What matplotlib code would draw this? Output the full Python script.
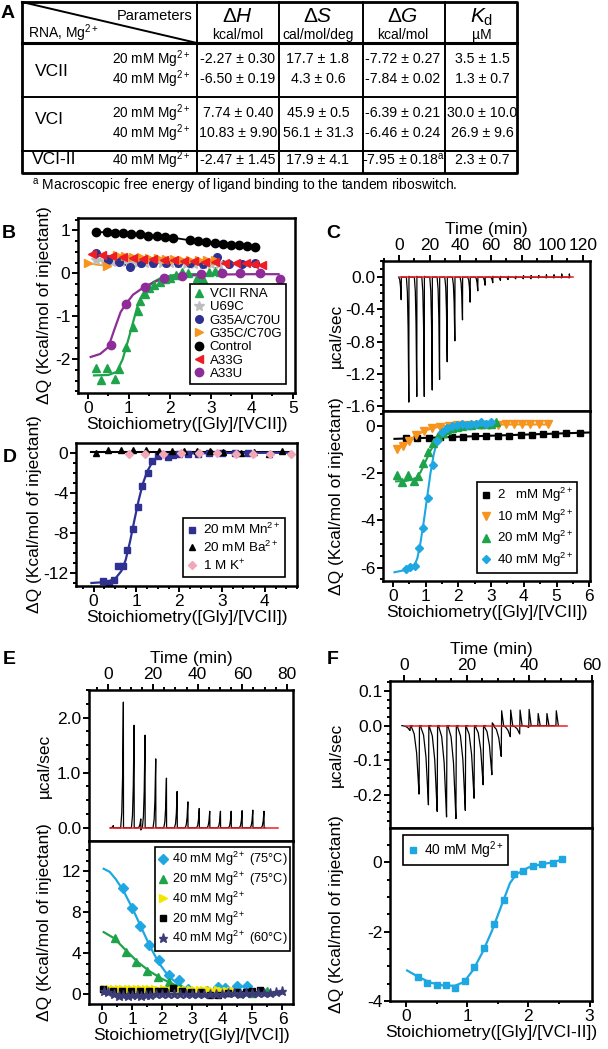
import matplotlib
matplotlib.use('Agg')
import matplotlib.pyplot as plt
from matplotlib.ticker import MultipleLocator, FormatStrFormatter

W, H = 608, 1049  # output size in pixels

# ---------------- data ----------------
# B: VCII riboswitch and mutants
vcii_x = [0.21, 0.33, 0.47, 0.66, 0.76, 0.93, 1.1, 1.23, 1.27, 1.39, 1.5, 1.62, 1.75, 1.88, 2.0, 2.15, 2.3, 2.45, 2.65, 2.81, 2.96, 3.1, 3.22]
vcii_y = [-2.2, -2.49, -2.2, -2.47, -2.22, -1.72, -1.25, -0.87, -0.65, -0.48, -0.35, -0.28, -0.2, -0.14, -0.1, -0.04, 0.02, 0.0, -0.1, -0.13, 0.04, 0.05, 0.04]
vcii_fit_x = [0.15, 0.5, 0.7, 0.85, 1.0, 1.1, 1.2, 1.3, 1.4, 1.6, 1.8, 2.1, 2.5, 3.3]
vcii_fit_y = [-2.38, -2.37, -2.3, -2.0, -1.5, -1.15, -0.8, -0.55, -0.38, -0.2, -0.1, -0.04, -0.02, -0.01]
a33u_x = [0.56, 0.94, 1.39, 1.86, 2.3, 2.76, 3.26, 3.72, 4.2, 4.68]
a33u_y = [-1.66, -0.71, -0.31, -0.11, -0.07, -0.02, 0.0, 0.0, 0.0, -0.13]
a33u_fit_x = [0.07, 0.3, 0.5, 0.65, 0.8, 0.94, 1.1, 1.4, 1.7, 2.0, 2.5, 3.0, 4.0, 4.65]
a33u_fit_y = [-1.95, -1.88, -1.72, -1.3, -0.9, -0.7, -0.5, -0.3, -0.17, -0.1, -0.05, -0.03, -0.02, -0.02]
ctrl_x = [0.21, 0.46, 0.66, 0.86, 1.06, 1.27, 1.47, 1.68, 1.88, 2.08, 2.49, 2.69, 2.89, 3.1, 3.3, 3.5, 3.68, 3.87, 4.07]
ctrl_y = [0.96, 0.96, 0.94, 0.94, 0.92, 0.91, 0.88, 0.87, 0.84, 0.83, 0.77, 0.75, 0.74, 0.71, 0.69, 0.67, 0.67, 0.64, 0.61]
u69c_x = [0.2, 0.4, 0.6, 0.8, 1.0, 1.2, 1.4, 1.6, 1.8, 2.0, 2.2, 2.4, 2.6, 2.8, 3.0, 3.2]
u69c_y = [0.3, 0.28, 0.27, 0.26, 0.25, 0.25, 0.24, 0.24, 0.23, 0.23, 0.23, 0.22, 0.22, 0.22, 0.22, 0.21]
g35a_x = [0.21, 0.5, 0.75, 1.02, 1.3, 1.6, 1.9, 2.2, 2.5, 2.8, 3.14, 3.45, 3.75, 4.07]
g35a_y = [0.48, 0.3, 0.27, 0.15, 0.25, 0.24, 0.24, 0.23, 0.23, 0.22, 0.37, 0.22, 0.22, 0.23]
g35c_x = [0.0, 0.46, 0.7, 0.9, 1.1, 1.3, 1.5, 1.7, 1.9, 2.1, 2.3, 2.5, 2.7, 2.9, 3.1]
g35c_y = [0.23, 0.17, 0.42, 0.4, 0.38, 0.37, 0.36, 0.35, 0.34, 0.33, 0.32, 0.31, 0.3, 0.3, 0.3]
a33g_x = [0.09, 0.35, 0.6, 0.85, 1.1, 1.35, 1.6, 1.85, 2.1, 2.35, 2.6, 2.85, 3.1, 3.35, 3.6, 3.85, 4.05, 4.24]
a33g_y = [0.45, 0.42, 0.4, 0.38, 0.36, 0.34, 0.33, 0.31, 0.3, 0.29, 0.28, 0.27, 0.26, 0.25, 0.24, 0.23, 0.22, 0.2]

# C: VCII thermogram (40 mM Mg) and binding isotherms at different Mg2+
c_inj_t = [1.3, 6.3, 11.5, 16.4, 21.6, 26.4, 31.4, 36.4, 41.4, 46.4, 51.4, 56.2, 61.2, 66.2, 71.2, 76.2, 81.2, 86.2, 91.2, 96.2, 101.2, 106.2, 111.2]
c_inj_peak = [-0.28, -1.55, -1.48, -1.48, -1.4, -1.27, -1.05, -0.79, -0.53, -0.31, -0.17, -0.1, -0.07, -0.04, -0.03, -0.02, -0.02, -0.02, -0.01, -0.01, -0.01, -0.01, -0.01]
c_inj_flick = [0.0, 0.01, 0.01, 0.01, 0.0, 0.0, 0.0, 0.0, 0.0, 0.0, 0.0, 0.0, 0.01, 0.01, 0.01, 0.01, 0.02, 0.02, 0.02, 0.03, 0.03, 0.04, 0.04]
c_base_t = [0.2, 114]
mg2_x = [0.4, 0.75, 1.1, 1.45, 1.8, 2.15, 2.5, 2.85, 3.2, 3.55, 3.9, 4.25, 4.6, 4.95, 5.3, 5.7]
mg2_y = [-0.52, -0.52, -0.51, -0.49, -0.48, -0.47, -0.45, -0.44, -0.42, -0.41, -0.39, -0.37, -0.35, -0.33, -0.31, -0.29]
mg2_fit_x = [0.05, 6.0]
mg2_fit_y = [-0.55, -0.28]
mg10_x = [0.12, 0.3, 0.5, 0.72, 0.95, 1.2, 1.45, 1.7, 1.95, 2.2, 2.45, 2.7, 2.95, 3.2, 3.45, 3.7, 3.95, 4.2, 4.45, 4.75]
mg10_y = [-1.0, -0.85, -0.62, -0.4, -0.22, -0.1, -0.03, 0.0, 0.02, 0.03, 0.04, 0.05, 0.05, 0.05, 0.06, 0.06, 0.06, 0.06, 0.06, 0.06]
mg20_x = [0.12, 0.27, 0.45, 0.65, 0.78, 0.93, 1.08, 1.24, 1.38, 1.52, 1.66, 1.8, 1.95, 2.1, 2.25, 2.4, 2.55, 2.7, 2.85, 3.0, 3.15]
mg20_y = [-2.08, -2.36, -2.08, -2.33, -2.12, -1.58, -1.09, -0.71, -0.45, -0.3, -0.18, -0.1, -0.05, 0.0, 0.05, 0.05, 0.1, 0.1, 0.1, 0.1, 0.15]
mg20_fit_x = [0.1, 0.4, 0.7, 0.85, 1.0, 1.15, 1.3, 1.45, 1.6, 1.8, 2.1, 2.5, 3.2]
mg20_fit_y = [-2.35, -2.33, -2.25, -1.95, -1.5, -1.05, -0.7, -0.45, -0.28, -0.15, -0.05, 0.0, 0.05]
mg40_x = [0.41, 0.53, 0.68, 0.8, 0.93, 1.08, 1.22, 1.36, 1.5, 1.65, 1.8, 1.95, 2.1, 2.25, 2.4, 2.55, 2.7, 2.85, 3.0]
mg40_y = [-6.06, -5.96, -5.92, -5.18, -4.34, -3.06, -1.65, -0.66, -0.25, -0.1, 0.0, 0.05, 0.1, 0.05, 0.1, 0.1, 0.15, 0.1, 0.15]
mg40_fit_x = [0.05, 0.4, 0.65, 0.75, 0.85, 0.95, 1.05, 1.15, 1.25, 1.35, 1.45, 1.6, 1.8, 2.2, 3.0]
mg40_fit_y = [-6.2, -6.1, -5.95, -5.6, -4.9, -4.0, -3.0, -2.0, -1.2, -0.65, -0.3, -0.1, 0.0, 0.05, 0.08]

# D: other cations
mn_x = [0.22, 0.36, 0.47, 0.57, 0.69, 0.79, 0.91, 1.03, 1.13, 1.27, 1.37, 1.51, 1.73, 1.86, 2.0, 2.2, 2.45, 2.7, 3.0, 3.3, 3.6]
mn_y = [-12.77, -13.0, -12.74, -11.26, -11.26, -9.69, -7.64, -5.4, -3.35, -2.04, -0.84, -0.37, -0.44, -0.23, -0.15, -0.1, -0.08, -0.06, -0.05, -0.04, -0.03]
mn_fit_x = [-0.05, 0.3, 0.5, 0.65, 0.75, 0.85, 0.95, 1.05, 1.15, 1.25, 1.35, 1.45, 1.6, 1.8, 2.2, 3.0, 4.6]
mn_fit_y = [-13.0, -12.9, -12.6, -11.8, -10.7, -8.9, -6.8, -4.8, -3.1, -1.9, -1.1, -0.6, -0.3, -0.15, -0.07, -0.03, 0.0]
ba_x = [0.05, 0.33, 0.63, 0.93, 1.22, 1.52, 1.82, 2.12, 2.42, 2.72, 3.02, 3.44, 3.75, 4.1, 4.4]
ba_y = [0.0, 0.3, 0.3, 0.3, 0.25, 0.2, 0.2, 0.15, 0.15, 0.15, 0.1, 0.0, 0.1, -0.17, 0.16]
k_x = [0.83, 1.21, 1.63, 2.03, 2.47, 2.88, 3.32, 3.72, 4.12, 4.6]
k_y = [-0.1, -0.1, -0.1, -0.05, -0.05, -0.05, -0.1, -0.1, -0.15, -0.1]
ba_fit_x = [-0.05, 4.6]
ba_fit_y = [0.05, 0.05]

# E: VCI thermogram and isotherms
e_inj_t = [2.2, 6.7, 11.5, 14.5, 16.4, 21.2, 26.0, 30.8, 35.6, 40.7, 45.4, 50.2, 55.0, 59.9, 64.7, 69.7]
e_inj_peak = [0.04, 2.28, 1.86, 0.16, 1.68, 1.25, 0.9, 0.66, 0.47, 0.35, 0.3, 0.3, 0.3, 0.31, 0.32, 0.3]
e_inj_flick = [0.0, 0.0, 0.0, -0.04, 0.0, 0.0, 0.0, 0.0, 0.0, 0.0, 0.0, 0.0, 0.0, 0.0, 0.0, 0.0]
e_base_t = [0.7, 76]
e75_40_x = [0.68, 0.98, 1.27, 1.56, 1.9, 2.23, 2.55, 2.85, 3.08, 3.5, 3.86, 4.08, 4.47, 4.83]
e75_40_y = [10.3, 8.35, 6.65, 4.77, 3.35, 1.9, 1.42, 0.5, 0.13, 0.35, 0.7, 0.6, 0.77, 0.77]
e75_40_fit_x = [0.05, 0.25, 0.45, 0.7, 1.0, 1.3, 1.6, 1.9, 2.2, 2.5, 2.8, 3.1, 3.5, 4.0, 5.0, 5.8]
e75_40_fit_y = [12.2, 11.9, 11.2, 10.1, 8.4, 6.5, 4.6, 3.0, 1.8, 1.05, 0.55, 0.3, 0.2, 0.15, 0.1, 0.1]
e75_20_x = [0.42, 0.79, 1.14, 1.5, 1.86, 2.23, 2.6, 3.0, 3.4, 3.8, 4.2, 4.6, 5.0, 5.47]
e75_20_y = [5.45, 4.16, 3.19, 2.32, 1.74, 1.19, 0.6, 0.3, 0.2, 0.25, 0.2, 0.15, 0.1, 0.35]
e75_20_fit_x = [0.05, 0.4, 0.8, 1.2, 1.6, 2.0, 2.4, 2.8, 3.2, 3.6, 4.5, 5.8]
e75_20_fit_y = [6.05, 5.45, 4.25, 3.1, 2.2, 1.5, 0.95, 0.55, 0.3, 0.2, 0.12, 0.1]
e40_x = [0.1, 0.25, 0.4, 0.55, 0.7, 0.85, 1.0, 1.15, 1.3, 1.45, 1.6, 1.75, 1.9, 2.05, 2.2, 2.35, 2.5, 2.65, 2.8, 2.95, 3.1, 3.25, 3.4, 3.55, 3.7, 3.85, 4.0, 4.15, 4.3, 4.4]
e40_y = [0.5, 0.55, 0.5, 0.55, 0.5, 0.55, 0.5, 0.5, 0.55, 0.5, 0.5, 0.5, 0.45, 0.5, 0.45, 0.45, 0.45, 0.45, 0.4, 0.45, 0.4, 0.4, 0.4, 0.4, 0.35, 0.4, 0.35, 0.35, 0.35, 0.3]
e40_fit_x = [0.05, 4.4]
e40_fit_y = [0.48, 0.33]
e20_x = [0.03, 0.35, 0.65, 0.95, 1.25, 1.55, 1.85, 2.05, 2.34, 2.65, 2.95, 3.3, 3.6, 3.86, 4.2, 4.5, 4.8, 5.0, 5.24]
e20_y = [0.55, 0.35, 0.35, 0.35, 0.3, 0.3, 0.3, 0.3, 0.6, 0.3, 0.25, 0.2, -0.03, -0.1, 0.15, 0.2, 0.2, 0.35, 0.45]
e20_fit_x = [0.05, 5.3]
e20_fit_y = [0.35, 0.2]
e60_x = [0.05, 0.2, 0.4, 0.55, 0.7, 0.85, 1.0, 1.15, 1.3, 1.45, 1.6, 1.8, 2.0, 2.2, 2.4, 2.6, 2.8, 3.0, 3.2, 3.4, 3.6, 3.8, 4.0, 4.2, 4.4, 4.6, 4.8, 5.0, 5.2, 5.4, 5.6, 5.8, 6.0]
e60_y = [0.35, 0.2, 0.0, -0.15, -0.1, -0.15, -0.05, -0.1, -0.15, -0.05, -0.05, 0.0, 0.0, 0.05, 0.0, 0.05, 0.05, 0.0, 0.05, 0.0, 0.05, 0.05, 0.05, 0.1, 0.1, 0.05, 0.1, 0.1, 0.1, 0.15, 0.15, 0.2, 0.3]
e60_fit_x = [0.05, 6.0]
e60_fit_y = [0.05, 0.1]

# F: tandem VCI-II
f_inj_t = [1.8, 4.7, 7.7, 10.5, 13.5, 16.5, 19.5, 22.3, 25.2, 28.0, 31.0, 33.9, 36.9, 39.8, 42.7, 45.5, 48.5]
f_inj_peak = [-0.014, -0.198, -0.229, -0.248, -0.264, -0.269, -0.245, -0.21, -0.171, -0.142, -0.089, -0.032, -0.024, -0.005, 0.0, 0.0, 0.0]
f_inj_flick = [0.0, 0.0, 0.0, 0.0, 0.0, 0.0, 0.0, 0.0, 0.0, 0.008, 0.043, 0.045, 0.045, 0.047, 0.035, 0.035, 0.043]
f_base_t = [0.5, 52]
f40_x = [0.19, 0.34, 0.5, 0.65, 0.81, 0.97, 1.12, 1.28, 1.44, 1.6, 1.76, 1.91, 2.08, 2.23, 2.4, 2.55]
f40_y = [-3.3, -3.48, -3.55, -3.55, -3.62, -3.42, -3.01, -2.48, -1.79, -1.1, -0.34, -0.24, -0.1, -0.05, -0.02, 0.1]
f40_fit_x = [0.02, 0.2, 0.4, 0.6, 0.8, 0.95, 1.1, 1.25, 1.4, 1.55, 1.7, 1.8, 2.0, 2.2, 2.4, 2.55]
f40_fit_y = [-3.12, -3.3, -3.47, -3.55, -3.56, -3.45, -3.1, -2.6, -2.0, -1.3, -0.6, -0.35, -0.15, -0.06, 0.0, 0.08]

# A: thermodynamic table
tab_rows = [
    ('20 mM Mg$^{2+}$', '-2.27 ± 0.30', '17.7 ± 1.8', '-7.72 ± 0.27', '3.5 ± 1.5'),
    ('40 mM Mg$^{2+}$', '-6.50 ± 0.19', '4.3 ± 0.6', '-7.84 ± 0.02', '1.3 ± 0.7'),
    ('20 mM Mg$^{2+}$', '7.74 ± 0.40', '45.9 ± 0.5', '-6.39 ± 0.21', '30.0 ± 10.0'),
    ('40 mM Mg$^{2+}$', '10.83 ± 9.90', '56.1 ± 31.3', '-6.46 ± 0.24', '26.9 ± 9.6'),
    ('40 mM Mg$^{2+}$', '-2.47 ± 1.45', '17.9 ± 4.1', '-7.95 ± 0.18$^{\\mathrm{a}}$', '2.3 ± 0.7'),
]
tab_groups = ['VCII', 'VCI', 'VCI-II']

# ---------------- style ----------------
plt.rcParams.update({
    'font.family': ['Liberation Sans', 'DejaVu Sans'],
    'mathtext.fontset': 'custom',
    'mathtext.rm': 'Liberation Sans',
    'mathtext.it': 'Liberation Sans:italic',
    'mathtext.bf': 'Liberation Sans:bold',
    'axes.unicode_minus': False,
    'axes.linewidth': 1.8,
})

GREEN = '#1fa34a'
PURPLE = '#8e2c98'
NAVY = '#2e3192'
ORANGE = '#f7941d'
RED = '#ee1c24'
GRAY = '#bdbdbd'
CYAN = '#1ea7e1'
YELLOW = '#f2e600'
STAR = '#3c3c78'
PINK = '#f2a7b8'

fig = plt.figure(figsize=(W / 100, H / 100), dpi=100)

# overlay in pixel coordinates for the table and panel letters
ov = fig.add_axes([0, 0, 1, 1])
ov.set_xlim(0, W)
ov.set_ylim(H, 0)
ov.axis('off')


def px_axes(l, t, r, b):
    return fig.add_axes([l / W, 1 - b / H, (r - l) / W, (b - t) / H])


def ticks(ax, xmaj, xmin, ymaj, ymin, top=False):
    ax.xaxis.set_major_locator(MultipleLocator(xmaj))
    ax.xaxis.set_minor_locator(MultipleLocator(xmin))
    ax.yaxis.set_major_locator(MultipleLocator(ymaj))
    ax.yaxis.set_minor_locator(MultipleLocator(ymin))
    ax.tick_params(which='both', direction='out', width=1.4, labelsize=12.5,
                   top=top, bottom=not top, labeltop=top, labelbottom=not top,
                   right=False, pad=1.5)
    ax.tick_params(which='major', length=4)
    ax.tick_params(which='minor', length=2.2)
    if top:
        ax.xaxis.set_label_position('top')


def ylabel_at(ax, text, x_px, left_px, width_px):
    # place the (rotated) y label so its right edge sits at x_px
    ax.set_ylabel(text, fontsize=12.5)
    ax.yaxis.set_label_coords((x_px - left_px) / width_px, 0.5)


def legend(ax, x, y, fs, **kw):
    opts = dict(loc='upper left', bbox_to_anchor=(x / W, 1 - y / H),
                bbox_transform=fig.transFigure, borderaxespad=0, fontsize=fs,
                fancybox=False, edgecolor='black', framealpha=1, numpoints=1,
                handlelength=0.8, handletextpad=0.4, borderpad=0.3)
    opts.update(kw)
    leg = ax.legend(**opts)
    leg.get_frame().set_linewidth(1.2)
    return leg


def trace(times, peaks, flicks, w):
    # thermogram: curved excursion to the peak, sharp flick back across baseline
    xs, ys = [], []
    for t, p, f in zip(times, peaks, flicks):
        xs += [t - w, t - 0.6 * w, t - 0.3 * w, t - 0.1 * w, t, t + 0.05 * w, t + 0.3 * w]
        ys += [0, 0.12 * p, 0.4 * p, 0.8 * p, p, f, 0]
    return xs, ys


ylab = 'ΔQ (Kcal/mol of injectant)'

# ---------------- A: table ----------------
L, R, T, B = 22, 517, 2, 173
cols = [197, 279, 363, 445]
ov.plot([L, R, R, L, L], [T, T, B, B, T], color='black', lw=2)
for c in cols:
    ov.plot([c, c], [T, B], color='black', lw=1.4)
ov.plot([L, R], [43, 43], color='black', lw=2.2)
ov.plot([L, R], [97, 97], color='black', lw=1.4)
ov.plot([L, R], [151, 151], color='black', lw=1.4)
ov.plot([L, 197], [T, 43], color='black', lw=1.4)
ov.text(155, 16, 'Parameters', ha='center', va='center', fontsize=10.5)
ov.text(28, 33, 'RNA, Mg$^{2+}$', ha='left', va='center', fontsize=10)
col_c = [238, 318, 403, 482]
heads = [r'$\Delta\mathit{H}$', r'$\Delta\mathit{S}$', r'$\Delta\mathit{G}$', r'$\mathit{K}_{\mathrm{d}}$']
units = ['kcal/mol', 'cal/mol/deg', 'kcal/mol', 'µM']
for cx, hd, un in zip(col_c, heads, units):
    ov.text(cx, 17, hd, ha='center', va='center', fontsize=15)
    ov.text(cx, 35, un, ha='center', va='center', fontsize=10)
row_y = [59, 79, 113, 133, 160]
for ry, row in zip(row_y, tab_rows):
    ov.text(190, ry, row[0], ha='right', va='center', fontsize=9.8)
    for cx, val in zip(col_c, row[1:]):
        ov.text(cx, ry, val, ha='center', va='center', fontsize=10.2)
for gy, gx, g in zip([71, 119, 160], [35, 35, 32], tab_groups):
    ov.text(gx, gy, g, ha='left', va='center', fontsize=12.5)
ov.text(32, 186, '$^{\\mathrm{a}}$ Macroscopic free energy of ligand binding to the tandem riboswitch.',
        ha='left', va='center', fontsize=10)

for letter, lx, ly in [('A', 8, 14), ('B', 9, 234), ('C', 333, 233), ('D', 10, 457), ('E', 9, 660), ('F', 333, 660)]:
    ov.text(lx, ly, letter, ha='center', va='center', fontsize=14, fontweight='bold')

# ---------------- B ----------------
axB = px_axes(78, 218, 295, 393)
axB.plot(ctrl_x, ctrl_y, '-', color='black', lw=1.3)
axB.plot(u69c_x, u69c_y, '-', color=GRAY, lw=1.3)
axB.plot(g35a_x, g35a_y, '--', color=NAVY, lw=1.2)
axB.plot(g35c_x, g35c_y, '-', color=ORANGE, lw=1.3)
axB.plot(a33g_x, a33g_y, '-', color=RED, lw=1.3)
axB.plot(vcii_fit_x, vcii_fit_y, '-', color=GREEN, lw=1.6)
axB.plot(a33u_fit_x, a33u_fit_y, '-', color=PURPLE, lw=1.6)
axB.plot(vcii_x, vcii_y, '^', color=GREEN, ms=6, ls='none', label='VCII RNA')
axB.plot(u69c_x, u69c_y, '*', color=GRAY, ms=7, ls='none', label='U69C')
axB.plot(g35a_x, g35a_y, 'o', color=NAVY, ms=5.5, ls='none', label='G35A/C70U')
axB.plot(g35c_x, g35c_y, '>', color=ORANGE, ms=6, ls='none', label='G35C/C70G')
axB.plot(ctrl_x, ctrl_y, 'o', color='black', ms=6, ls='none', label='Control')
axB.plot(a33g_x, a33g_y, '<', color=RED, ms=6, ls='none', label='A33G')
axB.plot(a33u_x, a33u_y, 'o', color=PURPLE, ms=6, ls='none', label='A33U')
axB.set_xlim(-0.24, 5.05)
axB.set_ylim(-2.79, 1.29)
ticks(axB, 1, 0.5, 1, 0.25)
axB.set_xlabel('Stoichiometry([Gly]/[VCII])', fontsize=12.5, labelpad=1)
ylabel_at(axB, ylab, 52, 78, 217)
legend(axB, 190, 284, 9.5, labelspacing=0.08)

# ---------------- C ----------------
axCt = px_axes(383, 261, 590, 411)
cx_, cy_ = trace(c_inj_t, c_inj_peak, c_inj_flick, 1.6)
axCt.plot(cx_, cy_, color='black', lw=0.9)
axCt.plot(c_base_t, [0, 0], color=RED, lw=1.1)
axCt.set_xlim(-10.6, 124.8)
axCt.set_ylim(-1.66, 0.2)
ticks(axCt, 20, 10, 0.4, 0.1, top=True)
axCt.yaxis.set_major_formatter(FormatStrFormatter('%.1f'))
axCt.set_xlabel('Time (min)', fontsize=12.5, labelpad=3)
ylabel_at(axCt, 'µcal/sec', 344, 383, 207)

axCb = px_axes(383, 411, 590, 581)
axCb.plot(mg2_fit_x, mg2_fit_y, '-', color='black', lw=1.5)
axCb.plot(mg10_x, mg10_y, '-', color=ORANGE, lw=1.5)
axCb.plot(mg20_fit_x, mg20_fit_y, '-', color=GREEN, lw=1.5)
axCb.plot(mg40_fit_x, mg40_fit_y, '-', color=CYAN, lw=1.5)
axCb.plot(mg2_x, mg2_y, 's', color='black', ms=5, ls='none', label='2   mM Mg$^{2+}$')
axCb.plot(mg10_x, mg10_y, 'v', color=ORANGE, ms=5.5, ls='none', label='10 mM Mg$^{2+}$')
axCb.plot(mg20_x, mg20_y, '^', color=GREEN, ms=5.5, ls='none', label='20 mM Mg$^{2+}$')
axCb.plot(mg40_x, mg40_y, 'D', color=CYAN, ms=4.5, ls='none', label='40 mM Mg$^{2+}$')
axCb.set_xlim(-0.3, 6.02)
axCb.set_ylim(-6.57, 0.63)
ticks(axCb, 1, 0.5, 2, 0.5)
axCb.set_xlabel('Stoichiometry([Gly]/[VCII])', fontsize=12.5, labelpad=1)
ylabel_at(axCb, ylab, 344, 383, 207)
legend(axCb, 477, 482, 9.5, labelspacing=0.25)

# ---------------- D ----------------
axD = px_axes(76, 443, 297, 586)
axD.plot(ba_fit_x, ba_fit_y, '-', color='black', lw=1.5)
axD.plot(mn_fit_x, mn_fit_y, '-', color=NAVY, lw=1.6)
hk, = axD.plot(k_x, k_y, 'D', color=PINK, ms=4.5, ls='none', label='1 M K$^{+}$', zorder=3)
hmn, = axD.plot(mn_x, mn_y, 's', color=NAVY, ms=4.5, ls='none', label='20 mM Mn$^{2+}$')
hba, = axD.plot(ba_x, ba_y, '^', color='black', ms=5, ls='none', label='20 mM Ba$^{2+}$')
axD.set_xlim(-0.41, 4.75)
axD.set_ylim(-13.3, 0.97)
ticks(axD, 1, 0.25, 4, 1)
axD.set_xlabel('Stoichiometry([Gly]/[VCII])', fontsize=12.5, labelpad=1)
ylabel_at(axD, ylab, 42, 76, 221)
legend(axD, 183, 518, 9.7, labelspacing=0.2, handles=[hmn, hba, hk])

# ---------------- E ----------------
axEt = px_axes(89, 690, 293, 841)
ex_, ey_ = trace(e_inj_t, e_inj_peak, e_inj_flick, 1.2)
axEt.plot(ex_, ey_, color='black', lw=0.9)
axEt.plot(e_base_t, [0, 0], color=RED, lw=1.1)
axEt.set_xlim(-8.7, 82.7)
axEt.set_ylim(-0.24, 2.5)
ticks(axEt, 20, 5, 1.0, 0.25, top=True)
axEt.yaxis.set_major_formatter(FormatStrFormatter('%.1f'))
axEt.set_xlabel('Time (min)', fontsize=12.5, labelpad=3)
ylabel_at(axEt, 'µcal/sec', 52, 89, 204)

axEb = px_axes(89, 841, 293, 1004)
axEb.plot(e60_fit_x, e60_fit_y, '-', color=STAR, lw=1.5)
axEb.plot(e20_fit_x, e20_fit_y, '-', color='black', lw=1.5)
axEb.plot(e40_fit_x, e40_fit_y, '-', color=YELLOW, lw=1.5)
axEb.plot(e75_20_fit_x, e75_20_fit_y, '-', color=GREEN, lw=1.6)
axEb.plot(e75_40_fit_x, e75_40_fit_y, '-', color=CYAN, lw=1.6)
axEb.plot(e75_40_x, e75_40_y, 'D', color=CYAN, ms=5, ls='none', label='40 mM Mg$^{2+}$ (75°C)')
axEb.plot(e75_20_x, e75_20_y, '^', color=GREEN, ms=5.5, ls='none', label='20 mM Mg$^{2+}$ (75°C)')
axEb.plot(e40_x, e40_y, '>', color=YELLOW, ms=5.5, ls='none', label='40 mM Mg$^{2+}$')
axEb.plot(e20_x, e20_y, 's', color='black', ms=4.5, ls='none', label='20 mM Mg$^{2+}$')
axEb.plot(e60_x, e60_y, '*', color=STAR, ms=6.5, ls='none', label='40 mM Mg$^{2+}$ (60°C)')
axEb.set_xlim(-0.44, 6.35)
axEb.set_ylim(-0.93, 14.9)
ticks(axEb, 1, 0.5, 4, 1)
axEb.set_xlabel('Stoichiometry([Gly]/[VCI])', fontsize=12.5, labelpad=1)
ylabel_at(axEb, ylab, 52, 89, 204)
legend(axEb, 155, 847, 9.2, labelspacing=0.12, handletextpad=0.25, borderpad=0.25)

# ---------------- F ----------------
axFt = px_axes(390, 681, 592, 828)
fx_, fy_ = trace(f_inj_t, f_inj_peak, f_inj_flick, 2.6)
axFt.plot(fx_, fy_, color='black', lw=0.9)
axFt.plot(f_base_t, [0, 0], color=RED, lw=1.1)
axFt.set_xlim(-4.6, 60.05)
axFt.set_ylim(-0.296, 0.129)
ticks(axFt, 20, 5, 0.1, 0.025, top=True)
axFt.yaxis.set_major_formatter(FormatStrFormatter('%.1f'))
axFt.set_xlabel('Time (min)', fontsize=12.5, labelpad=3)
ylabel_at(axFt, 'µcal/sec', 344, 390, 202)

axFb = px_axes(390, 828, 592, 1001)
axFb.plot(f40_fit_x, f40_fit_y, '-', color=CYAN, lw=1.6)
axFb.plot(f40_x, f40_y, 's', color=CYAN, ms=5, ls='none', label='40 mM Mg$^{2+}$')
axFb.set_xlim(-0.26, 3.04)
axFb.set_ylim(-4.0, 0.99)
ticks(axFb, 1, 0.5, 2, 0.5)
axFb.set_xlabel('Stoichiometry([Gly]/[VCI-II])', fontsize=12.5, labelpad=1)
ylabel_at(axFb, ylab, 344, 390, 202)
legend(axFb, 403, 835, 10)

fig.savefig('out.png', dpi=100)
